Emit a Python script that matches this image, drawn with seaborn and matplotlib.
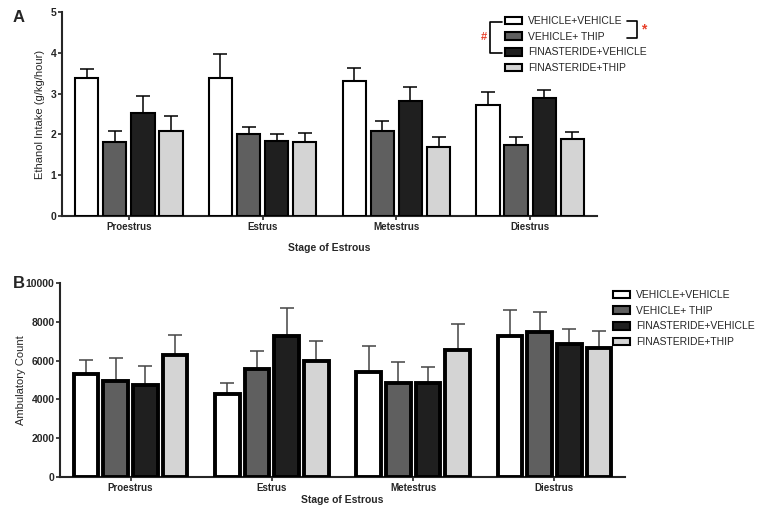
import matplotlib
matplotlib.use("Agg")
import matplotlib.pyplot as plt
import numpy as np
import pandas as pd
import seaborn as sns
from matplotlib.lines import Line2D

stages = ["Proestrus", "Estrus", "Metestrus", "Diestrus"]
groups = ["VEHICLE+VEHICLE", "VEHICLE+ THIP", "FINASTERIDE+VEHICLE", "FINASTERIDE+THIP"]
colors = ["#ffffff", "#5f5f5f", "#1f1f1f", "#d4d4d4"]

# panel A: ethanol intake (g/kg/hour), rows = groups, cols = stages
ethanol_mean = [
    [3.39, 3.39, 3.31, 2.73],
    [1.81, 2.01, 2.08, 1.75],
    [2.52, 1.84, 2.81, 2.88],
    [2.08, 1.82, 1.70, 1.89],
]
ethanol_top = [
    [3.60, 3.96, 3.63, 3.05],
    [2.08, 2.19, 2.34, 1.94],
    [2.93, 2.01, 3.16, 3.09],
    [2.44, 2.04, 1.94, 2.06],
]

# panel B: ambulatory count
amb_mean = [
    [5310, 4300, 5390, 7260],
    [4970, 5550, 4830, 7450],
    [4740, 7280, 4830, 6850],
    [6280, 5980, 6540, 6630],
]
amb_top = [
    [6030, 4860, 6750, 8630],
    [6110, 6470, 5920, 8530],
    [5720, 8730, 5650, 7640],
    [7310, 7000, 7890, 7530],
]

sns.set_theme(style="ticks")
plt.rcParams["font.family"] = ["Liberation Sans", "DejaVu Sans"]


def long_df(means, tops):
    rows = []
    for g, gname in enumerate(groups):
        for s, sname in enumerate(stages):
            rows.append({"stage": sname, "group": gname,
                         "value": means[g][s], "err": tops[g][s] - means[g][s]})
    return pd.DataFrame(rows)


def draw_panel(ax, df, edge_lw, err_color, ymax, yticks, xlabelpad):
    sns.barplot(data=df, x="stage", y="value", hue="group", order=stages,
                hue_order=groups, palette=colors, errorbar=None,
                width=0.84, gap=0.17, edgecolor="black", linewidth=edge_lw,
                legend=False, ax=ax, zorder=3)
    # patches come in hue order, then stage order
    bars = [p for p in ax.patches if p.get_height() > 0]
    i = 0
    for gname in groups:
        sub = df[df["group"] == gname].set_index("stage").loc[stages]
        for _, row in sub.iterrows():
            p = bars[i]
            x = p.get_x() + p.get_width() / 2
            ax.errorbar(x, row["value"], yerr=[[0], [row["err"]]], fmt="none",
                        ecolor=err_color, elinewidth=1.1, capsize=5,
                        capthick=1.1, zorder=2)
            i += 1
    ax.set_xlim(-0.5, 3.5)
    ax.set_ylim(0, ymax)
    ax.set_yticks(yticks)
    sns.despine(ax=ax)
    for s in ["left", "bottom"]:
        ax.spines[s].set_linewidth(1.5)
    ax.tick_params(axis="both", length=3, width=1.2, pad=1)
    ax.tick_params(axis="x", labelsize=7)
    ax.tick_params(axis="y", labelsize=7.5)
    for lab in ax.get_xticklabels() + ax.get_yticklabels():
        lab.set_fontweight("bold")
    ax.set_xlabel("Stage of Estrous", fontsize=7.5, fontweight="bold", labelpad=xlabelpad)


fig = plt.figure(figsize=(7.62, 5.16), dpi=100)
W, H = 762, 516

def px_axes(left, top, right, bottom):
    return fig.add_axes([left / W, 1 - bottom / H, (right - left) / W, (bottom - top) / H])

axA = px_axes(62, 12, 597, 216)
axB = px_axes(60, 283, 625, 477)

dfA = long_df(ethanol_mean, ethanol_top)
dfB = long_df(amb_mean, amb_top)

draw_panel(axA, dfA, 1.5, "black", 5, [0, 1, 2, 3, 4, 5], 8)
axA.set_ylabel("Ethanol Intake (g/kg/hour)", fontsize=8, labelpad=4)

draw_panel(axB, dfB, 2.8, "#444444", 10000, [0, 2000, 4000, 6000, 8000, 10000], 2)
axB.set_ylabel("Ambulatory Count", fontsize=8, labelpad=0)

fig.text(13 / W, 1 - 17 / H, "A", fontsize=12, fontweight="bold", va="center")
fig.text(13 / W, 1 - 284 / H, "B", fontsize=12, fontweight="bold", va="center")

# legends
handles = [plt.Rectangle((0, 0), 1, 1, facecolor=c, edgecolor="black", linewidth=1.5)
           for c in colors]
fig.legend(handles, groups, loc="upper left", bbox_to_anchor=(505 / W, 1 - 16 / H),
           frameon=False, fontsize=7.5, handlelength=1.6, handleheight=0.75,
           handletextpad=0.6, labelspacing=0.55, borderpad=0, borderaxespad=0)
handlesB = [plt.Rectangle((0, 0), 1, 1, facecolor=c, edgecolor="black", linewidth=1.5)
            for c in colors]
fig.legend(handlesB, groups, loc="upper left", bbox_to_anchor=(613 / W, 1 - 290 / H),
           frameon=False, fontsize=7.5, handlelength=1.6, handleheight=0.75,
           handletextpad=0.6, labelspacing=0.55, borderpad=0, borderaxespad=0)

# significance brackets on legend A
def fline(xs, ys):
    fig.lines.append(Line2D([x / W for x in xs], [1 - y / H for y in ys],
                            transform=fig.transFigure, color="black", linewidth=1.2))

fline([502, 490, 490, 502], [22, 22, 53, 53])
fline([627, 637, 637, 627], [21, 21, 38, 38])
fig.text(484 / W, 1 - 37 / H, "#", color="#e8402a", fontsize=8, fontweight="bold",
         ha="center", va="center")
fig.text(644 / W, 1 - 29 / H, "*", color="#e8402a", fontsize=10, fontweight="bold",
         ha="center", va="center")

fig.savefig("out.png", dpi=100)
